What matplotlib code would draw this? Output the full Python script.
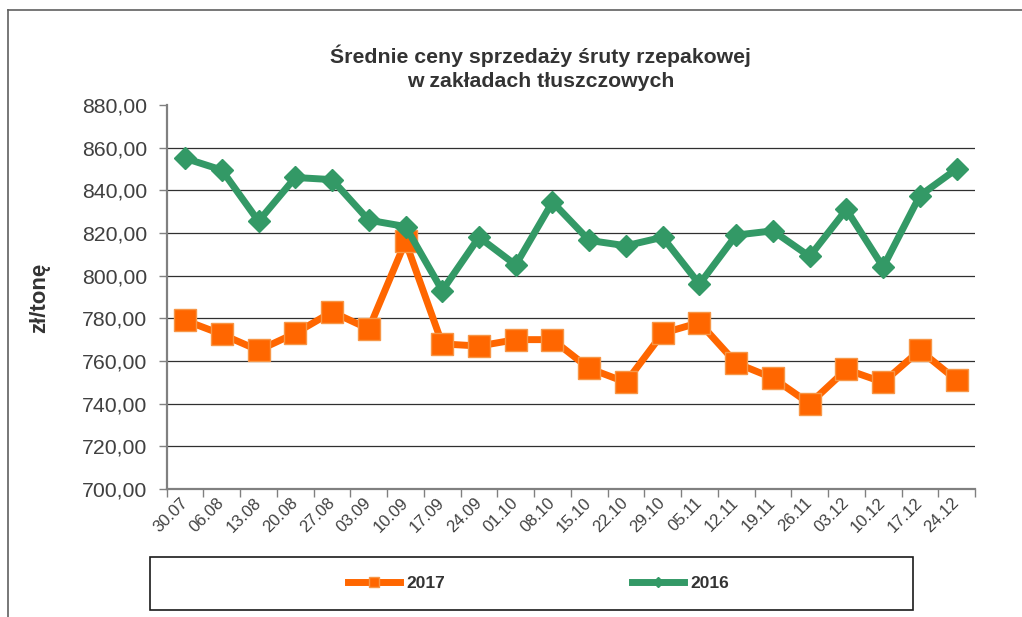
import matplotlib
matplotlib.use("Agg")
import matplotlib.pyplot as plt
from matplotlib.lines import Line2D
from matplotlib.patches import Rectangle
from matplotlib.ticker import FuncFormatter, FixedLocator

plt.rcParams['font.family'] = ['Liberation Sans', 'DejaVu Sans']

# dane
tygodnie = ["30.07", "06.08", "13.08", "20.08", "27.08", "03.09", "10.09", "17.09",
            "24.09", "01.10", "08.10", "15.10", "22.10", "29.10", "05.11", "12.11",
            "19.11", "26.11", "03.12", "10.12", "17.12", "24.12"]
ceny_2017 = [779, 772.5, 765, 773, 783, 775, 816, 768, 767, 770, 770, 756.5,
             750, 773, 778, 759, 752, 740, 756, 750, 765, 751]
ceny_2016 = [855, 849.5, 825.5, 846, 845, 826, 823, 793, 818, 805, 834.5, 816.5,
             814, 818, 796, 819, 821, 809, 831, 804, 837.5, 850]

ciemny = "#404040"
pomaranczowy = "#FF6600"
zielony = "#339966"

fig = plt.figure(figsize=(10.22, 6.17), dpi=100)
ax = fig.add_axes([0.1631, 0.2075, 0.7909, 0.6224])

x = list(range(len(tygodnie)))
ax.plot(x, ceny_2017, color=pomaranczowy, lw=5, marker="s", ms=16,
        mfc=pomaranczowy, mec="#F79646", mew=1, label="2017", zorder=3)
ax.plot(x, ceny_2016, color=zielony, lw=5, marker="D", ms=11,
        mfc=zielony, mec=zielony, label="2016", zorder=4)

ax.set_ylim(700, 880)
ax.set_yticks(range(700, 881, 20))
ax.yaxis.set_major_formatter(FuncFormatter(lambda v, p: f"{v:.2f}".replace(".", ",")))
for v in range(720, 861, 20):
    ax.axhline(v, color="#303030", lw=0.9, zorder=1)

ax.set_xlim(-0.5, len(tygodnie) - 0.5)
ax.xaxis.set_major_locator(FixedLocator([i - 0.5 for i in range(len(tygodnie) + 1)]))
ax.xaxis.set_major_formatter(FuncFormatter(lambda v, p: ""))
ax.xaxis.set_minor_locator(FixedLocator(x))
ax.set_xticklabels(tygodnie, minor=True)
ax.tick_params(axis="x", which="major", length=6, width=1, color="#808080")
ax.tick_params(axis="x", which="minor", length=0, pad=8, labelsize=12,
               labelcolor=ciemny, labelrotation=45)
for t in ax.get_xticklabels(minor=True):
    t.set_ha("right")
    t.set_va("center")
    t.set_rotation_mode("anchor")
ax.tick_params(axis="y", length=6, width=1, color="#808080", labelsize=15.3,
               labelcolor=ciemny, pad=8)

for s in ["top", "right"]:
    ax.spines[s].set_visible(False)
ax.spines["left"].set_color("#808080")
ax.spines["left"].set_linewidth(1.6)
ax.spines["bottom"].set_color("#808080")
ax.spines["bottom"].set_linewidth(1.6)

fig.text(0.529, 0.890, "Średnie ceny sprzedaży śruty rzepakowej\nw zakładach tłuszczowych",
         ha="center", va="center", fontsize=15.3, fontweight="bold", color="#333333",
         linespacing=1.3)
fig.text(0.039, 0.518, "zł/tonę", rotation=90, ha="center", va="center",
         fontsize=16, fontweight="bold", color="#333333")

# ramka wykresu
fig.add_artist(Line2D([0.008, 1.0], [0.983, 0.983], color="#606060", lw=1.2))
fig.add_artist(Line2D([0.008, 0.008], [0.0, 0.983], color="#606060", lw=1.2))

# legenda
fig.add_artist(Rectangle((0.1468, 0.0113), 0.7466, 0.0859, fill=False,
                         edgecolor="#1a1a1a", lw=1.2, transform=fig.transFigure))
fig.legend(loc="center", bbox_to_anchor=(0.527, 0.0543), ncol=2, frameon=False,
           markerscale=0.45, handlelength=3.0, handletextpad=0.35, columnspacing=10.8,
           prop={"weight": "bold", "size": 12.5}, labelcolor="#333333")

fig.savefig("out.png", dpi=100)
